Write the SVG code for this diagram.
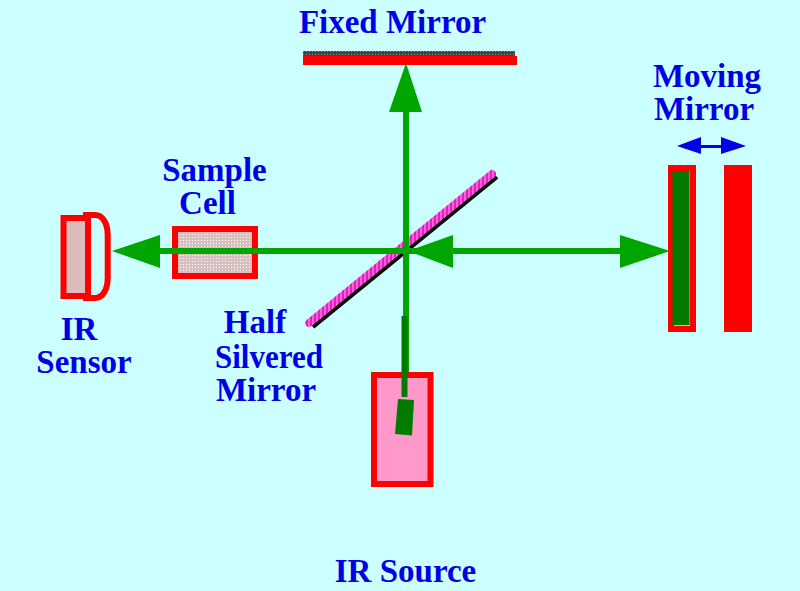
<svg xmlns="http://www.w3.org/2000/svg" width="800" height="591" viewBox="0 0 800 591">
<style>
text{font-family:"Liberation Serif","Times New Roman",serif;font-weight:bold;font-size:33px;fill:#0000e6;text-anchor:middle}
.r{fill:#f00}
.box{stroke:#f00;stroke-width:6}
.beam{fill:none;stroke:#00a500;stroke-width:6}
.head{fill:#00a500}
.dg{fill:#007b00}
</style>
<defs>
<pattern id="dots" width="3" height="3" patternUnits="userSpaceOnUse"><rect width="3" height="3" fill="#d8c0c0"/><rect width="1" height="1" fill="#fff"/></pattern>
<pattern id="gray" width="3" height="3" patternUnits="userSpaceOnUse"><rect width="3" height="3" fill="#444"/><rect width="1" height="1" fill="#888"/></pattern>
<pattern id="pink" width="4" height="4" patternUnits="userSpaceOnUse"><rect width="4" height="4" fill="#e020c0"/><rect width="2" height="4" fill="#ff60d8"/></pattern>
</defs>
<rect width="800" height="591" fill="#ccffff"/>
<g id="fixed-mirror">
<rect x="303" y="51" width="212" height="6" fill="url(#gray)"/>
<rect class="r" x="303" y="56" width="214" height="9"/>
<text x="392.500" y="33">Fixed Mirror</text>
</g>
<g id="half-silvered-mirror">
<line x1="313" y1="327" x2="497" y2="177" stroke="#000" stroke-width="4"/>
<line x1="309" y1="323" x2="492" y2="174" stroke="url(#pink)" stroke-width="8" stroke-linecap="round"/>
<text x="255" y="333">Half</text>
<text x="269" y="368" textLength="108" lengthAdjust="spacingAndGlyphs">Silvered</text>
<text x="266" y="401">Mirror</text>
</g>
<g id="sample-cell">
<rect class="box" x="175" y="229" width="80" height="47" fill="url(#dots)"/>
<text x="214.500" y="181">Sample</text>
<text x="207.500" y="214">Cell</text>
</g>
<g id="ir-sensor">
<path class="box" d="M86 215H95C103 215 107.700 224 107.700 235V278C107.700 289 103 298 95 298H86Z" fill="#ccffff"/>
<rect class="box" x="63.500" y="218" width="24.500" height="78" fill="#dcbcbc"/>
<text x="79" y="340">IR</text>
<text x="84" y="373">Sensor</text>
</g>
<g id="moving-mirror">
<rect class="box" x="671" y="168" width="22" height="161" fill="#d0c0c0"/>
<rect class="dg" x="672.500" y="171" width="17" height="154"/>
<rect class="r" x="724" y="165" width="28" height="167"/>
<text x="707" y="87">Moving</text>
<text x="704" y="120">Mirror</text>
</g>
<g id="connectors">
<path class="beam" d="M406 112V376M160 251H620"/>
<polygon class="head" points="406,63 389,112 422,112"/>
<polygon class="head" points="112,251 160,235 160,268"/>
<polygon class="head" points="408,251 453,235 453,268"/>
<polygon class="head" points="670,251 620,235 620,268"/>
<path d="M699 146.500H723" stroke="#0000e6" stroke-width="3"/>
<polygon points="677,146 701,137 701,154" fill="#0000e6"/>
<polygon points="746,146 721,137 721,154" fill="#0000e6"/>
</g>
<g id="ir-source">
<rect class="box" x="374" y="375" width="56.500" height="109" fill="#ff99cc"/>
<line x1="404.500" y1="316" x2="404.500" y2="397" stroke="#007b00" stroke-width="6"/>
<polygon class="dg" points="398,399 414,400 412,435.500 395,434"/>
<text x="405.500" y="582">IR Source</text>
</g>
</svg>
